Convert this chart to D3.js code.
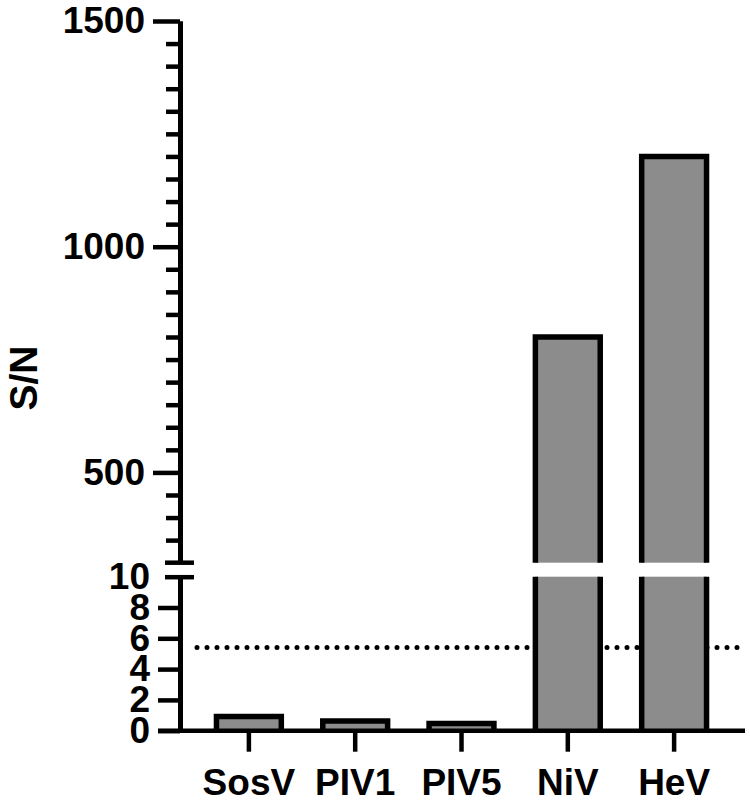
<!DOCTYPE html>
<html>
<head>
<meta charset="utf-8">
<script src="https://cdn.jsdelivr.net/npm/d3@7"></script>
<style>
  html, body { margin: 0; padding: 0; background: #fff; }
  svg { display: block; }
  text { font-family: "Liberation Sans", Arial, Helvetica, sans-serif; font-weight: bold; fill: #000; }
</style>
</head>
<body>
<svg id="chart" width="750" height="804"></svg>
<script>
// ---- data ----
const categories = ["SosV", "PIV1", "PIV5", "NiV", "HeV"];
const values = [0.93, 0.63, 0.47, 800, 1200];
const threshold = 5.4;
const upperTickLabels = [500, 1000, 1500];
const lowerTickLabels = [0, 2, 4, 6, 8, 10];
const breakLow = 10, breakHigh = 300;
const yTitle = "S/N";

// ---- layout ----
const svg = d3.select("#chart");
const axisX = 180;
const xLeft = 180, xRight = 743;
const upTop = 21, upBottom = 562.7;
const lowTop = 576.7, lowBottom = 730.7;
const barFill = "#8c8c8c";
const ink = "#000";

const x = d3.scaleBand().domain(categories).range([xLeft, xRight])
  .paddingInner(0.39).paddingOuter(0.343);
const yUp = d3.scaleLinear().domain([breakHigh, 1500]).range([upBottom, upTop]);
const yLow = d3.scaleLinear().domain([0, breakLow]).range([lowBottom, lowTop]);

// threshold dotted line (behind bars)
svg.append("line")
  .attr("x1", 197).attr("x2", 738)
  .attr("y1", yLow(threshold)).attr("y2", yLow(threshold))
  .attr("stroke", ink).attr("stroke-width", 5)
  .attr("stroke-linecap", "round")
  .attr("stroke-dasharray", "0,10");

// bars
const bw = x.bandwidth();
const sw = 5.5;
const data = categories.map((c, i) => ({ c, v: values[i] }));
const bars = svg.append("g");
data.forEach(d => {
  const l = x(d.c), r = x(d.c) + bw;
  const lowV = Math.min(d.v, breakLow);
  bars.append("rect")
    .attr("x", l).attr("width", bw)
    .attr("y", yLow(lowV)).attr("height", yLow(0) - yLow(lowV))
    .attr("fill", barFill);
  let p;
  if (d.v <= breakLow) {
    p = `M${l},${yLow(0)}V${yLow(d.v)}H${r}V${yLow(0)}`;
  } else {
    p = `M${l},${yLow(0)}V${yLow(breakLow)}M${r},${yLow(breakLow)}V${yLow(0)}`;
  }
  bars.append("path").attr("d", p).attr("fill", "none")
    .attr("stroke", ink).attr("stroke-width", sw).attr("stroke-linejoin", "miter");
  if (d.v > breakHigh) {
    bars.append("rect")
      .attr("x", l).attr("width", bw)
      .attr("y", yUp(d.v)).attr("height", yUp(breakHigh) - yUp(d.v))
      .attr("fill", barFill);
    bars.append("path")
      .attr("d", `M${l},${yUp(breakHigh)}V${yUp(d.v)}H${r}V${yUp(breakHigh)}`)
      .attr("fill", "none").attr("stroke", ink).attr("stroke-width", sw)
      .attr("stroke-linejoin", "miter");
  }
});

// upper y axis: minor ticks
const minorUp = d3.range(350, 1500, 50).filter(v => !upperTickLabels.includes(v));
const gMinor = svg.append("g").attr("transform", `translate(${axisX},0)`)
  .call(d3.axisLeft(yUp).tickValues(minorUp).tickSize(14).tickSizeOuter(0).tickFormat(""));
// upper y axis: major ticks
const gUp = svg.append("g").attr("transform", `translate(${axisX},0)`)
  .call(d3.axisLeft(yUp).tickValues(upperTickLabels).tickSize(27).tickSizeOuter(0)
    .tickPadding(8).tickFormat(d3.format("d")));
// lower y axis
const gLow = svg.append("g").attr("transform", `translate(${axisX},0)`)
  .call(d3.axisLeft(yLow).tickValues(lowerTickLabels).tickSize(22).tickSizeOuter(0)
    .tickPadding(8).tickFormat(d3.format("d")));

[gMinor, gUp, gLow].forEach(g => {
  g.select(".domain").attr("stroke", ink).attr("stroke-width", 5);
  g.selectAll(".tick line").attr("stroke", ink).attr("stroke-width", 4.5);
  g.selectAll(".tick text").attr("font-size", 37).attr("fill", ink)
    .attr("font-family", "Liberation Sans, Arial, sans-serif").attr("font-weight", "bold");
});
// break marks
gLow.selectAll(".tick").filter(d => d === breakLow).select("line")
  .attr("x1", -15).attr("x2", 14);
svg.append("line")
  .attr("x1", axisX - 15).attr("x2", axisX + 14)
  .attr("y1", yUp(breakHigh)).attr("y2", yUp(breakHigh))
  .attr("stroke", ink).attr("stroke-width", 4.5);

// x axis
const gX = svg.append("g").attr("transform", `translate(0,${lowBottom})`)
  .call(d3.axisBottom(x).tickSize(21).tickSizeOuter(0).tickPadding(17));
gX.select(".domain").remove();
gX.selectAll(".tick line").attr("stroke", ink).attr("stroke-width", 4.5);
gX.selectAll(".tick text").attr("font-size", 37).attr("fill", ink)
  .attr("font-family", "Liberation Sans, Arial, sans-serif").attr("font-weight", "bold");
svg.append("line")
  .attr("x1", 158).attr("x2", 745)
  .attr("y1", lowBottom).attr("y2", lowBottom)
  .attr("stroke", ink).attr("stroke-width", 4.5);

// y title
svg.append("text")
  .attr("transform", `translate(37,378) rotate(-90)`)
  .attr("text-anchor", "middle")
  .attr("font-size", 39)
  .text(yTitle);
</script>
</body>
</html>
